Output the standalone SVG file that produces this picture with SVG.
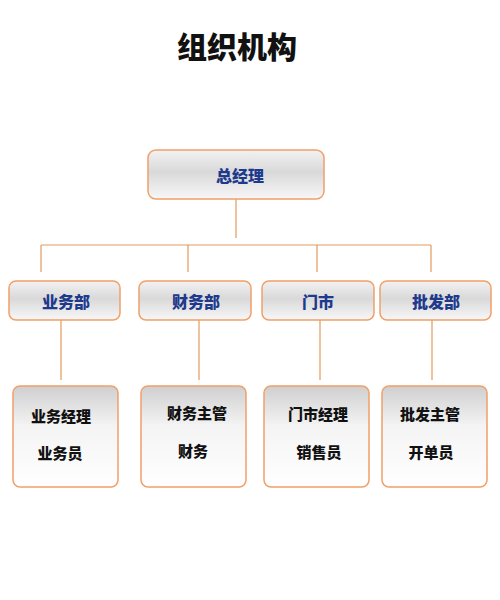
<svg xmlns="http://www.w3.org/2000/svg" width="500" height="600" viewBox="0 0 500 600">
<defs>
<linearGradient id="gTop" x1="0" y1="0" x2="0" y2="1">
<stop offset="0" stop-color="#f2f2f2"/>
<stop offset="0.45" stop-color="#d9d9d9"/>
<stop offset="1" stop-color="#f7f7f7"/>
</linearGradient>
<linearGradient id="gBot" x1="0" y1="0" x2="0" y2="1">
<stop offset="0" stop-color="#cfcfcf"/>
<stop offset="0.4" stop-color="#f4f4f4"/>
<stop offset="1" stop-color="#ffffff"/>
</linearGradient>
</defs>
<style>
.box{fill:url(#gTop);stroke:#f0a068;stroke-width:1.5}
.sub{fill:url(#gBot);stroke:#f0a068;stroke-width:1.5}
.lbl{font-family:"Noto Sans CJK SC","Noto Sans",sans-serif;font-weight:900;font-size:16px;fill:#1e3a8c;text-anchor:middle;dominant-baseline:central}
.txt{font-family:"Noto Sans CJK SC","Noto Sans",sans-serif;font-weight:900;font-size:15px;fill:#111;text-anchor:middle;dominant-baseline:central}
.ttl{font-family:"Noto Sans CJK SC","Noto Sans",sans-serif;font-weight:900;font-size:30px;fill:#111;text-anchor:middle;dominant-baseline:central}
.ln{stroke:#e39a5c;stroke-width:1.2;fill:none}
</style>
<rect width="500" height="600" fill="#ffffff"/>
<text class="ttl" x="237" y="45">组织机构</text>
<g id="connectors">
<path class="ln" d="M236 199V238M41 245H431M41 245V272M188 245V272M317 245V272M431 245V272"/>
<path class="ln" d="M61 320V380M199 320V380M320 320V380M432 320V380"/>
</g>
<g id="n-gm"><rect class="box" x="148" y="150" width="176" height="49" rx="8"/><text class="lbl" x="240" y="175">总经理</text></g>
<g id="n-yw"><rect class="box" x="9" y="281" width="111" height="39" rx="7"/><text class="lbl" x="66" y="301">业务部</text></g>
<g id="n-cw"><rect class="box" x="139" y="281" width="112" height="39" rx="7"/><text class="lbl" x="196" y="301">财务部</text></g>
<g id="n-ms"><rect class="box" x="262" y="281" width="112" height="39" rx="7"/><text class="lbl" x="318" y="301">门市</text></g>
<g id="n-pf"><rect class="box" x="380" y="281" width="111" height="39" rx="7"/><text class="lbl" x="436" y="301">批发部</text></g>
<g id="s-yw"><rect class="sub" x="13" y="386" width="105" height="101" rx="7"/><text class="txt" x="61" y="415">业务经理</text><text class="txt" x="60" y="452">业务员</text></g>
<g id="s-cw"><rect class="sub" x="141" y="386" width="105" height="101" rx="7"/><text class="txt" x="197" y="412">财务主管</text><text class="txt" x="193" y="450">财务</text></g>
<g id="s-ms"><rect class="sub" x="264" y="386" width="105" height="101" rx="7"/><text class="txt" x="318" y="413">门市经理</text><text class="txt" x="319" y="451">销售员</text></g>
<g id="s-pf"><rect class="sub" x="382" y="386" width="105" height="101" rx="7"/><text class="txt" x="430" y="413">批发主管</text><text class="txt" x="431" y="451">开单员</text></g>
</svg>
